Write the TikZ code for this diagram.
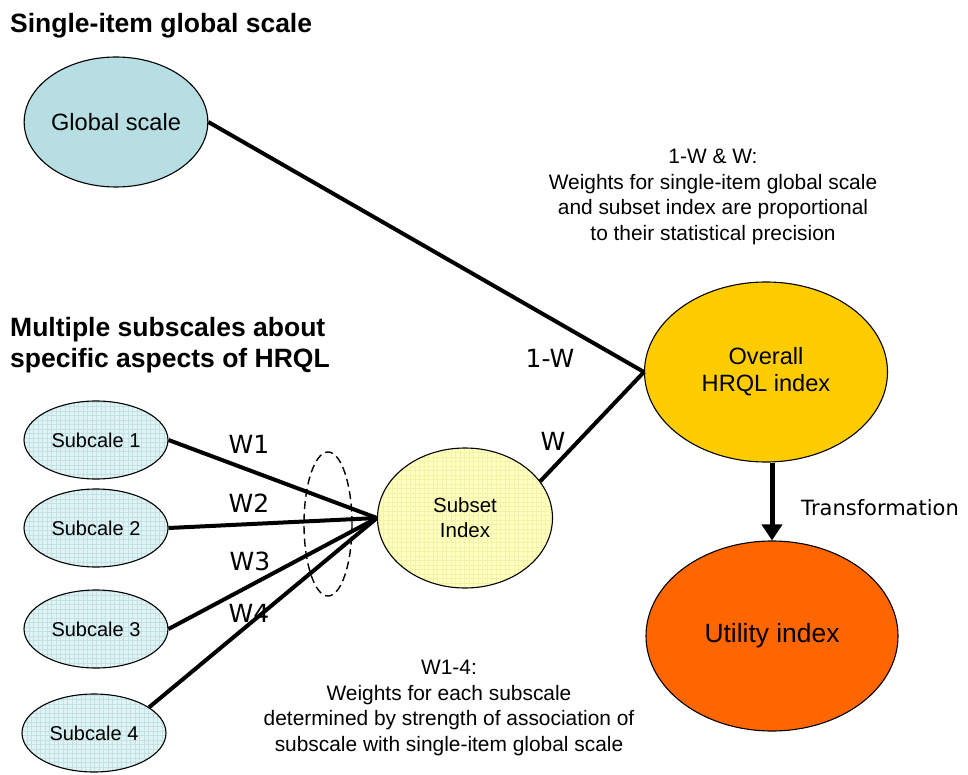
\documentclass[tikz,border=0pt]{standalone}
\usepackage{fontspec}
\setmainfont{Liberation Sans}
\newfontfamily\lblfont{DejaVu Sans}
\usetikzlibrary{shapes.geometric,arrows.meta}

\definecolor{globfill}{RGB}{183,223,227}
\definecolor{subfill}{RGB}{226,243,244}
\definecolor{subgrid}{RGB}{192,226,230}
\definecolor{setfill}{RGB}{255,255,194}
\definecolor{setgrid}{RGB}{243,243,165}
\definecolor{ovrfill}{RGB}{255,204,0}
\definecolor{utlfill}{RGB}{255,102,0}

\tikzset{
  oval/.style={ellipse, draw=black, line width=1.1pt, inner sep=0pt, align=center},
  gridded/.style={path picture={\draw[#1, line width=0.5pt, step=4.5pt]
      (path picture bounding box.south west) grid (path picture bounding box.north east);}},
  subscale/.style={oval, fill=subfill, gridded=subgrid, minimum width=144pt,
      minimum height=78pt, font=\fontsize{20}{24}\selectfont},
  link/.style={line width=4pt},
  heading/.style={anchor=base west, inner sep=0pt, align=left,
      font=\bfseries\fontsize{26.5}{31}\selectfont},
  note/.style={inner sep=0pt, align=center, font=\fontsize{20.9}{25.5}\selectfont},
  wlabel/.style={anchor=base, inner sep=0pt, font=\lblfont\fontsize{25}{30}\selectfont}
}

\begin{document}
\begin{tikzpicture}[x=1pt, y=-1pt]
\useasboundingbox (0,0) rectangle (968,775);

% headings
\node[heading] (h1) at (10,33) {Single-item global scale};
\node[heading, anchor=north west] (h2) at (10,317)
  {Multiple subscales about\\specific aspects of HRQL};

% main ovals
\node[oval, fill=globfill, minimum width=181pt, minimum height=130pt,
      font=\fontsize{23.6}{28}\selectfont] (glob) at (116,122) {Global scale};
\node[oval, fill=ovrfill, minimum width=243pt, minimum height=180pt,
      font=\fontsize{23.6}{27}\selectfont] (ovr) at (766,372) {Overall\\HRQL index};
\node[oval, fill=utlfill, minimum width=252pt, minimum height=190pt,
      font=\fontsize{26.4}{30}\selectfont] (utl) at (772,636) {Utility index};
\node[oval, fill=setfill, gridded=setgrid, minimum width=175pt, minimum height=140pt,
      font=\fontsize{20.5}{25}\selectfont] (sub) at (465,518) {Subset\\Index};

% subscales
\node[subscale] (s1) at (96,440) {Subcale 1};
\node[subscale] (s2) at (96,528) {Subcale 2};
\node[subscale] (s3) at (96,629) {Subcale 3};
\node[subscale] (s4) at (94,733) {Subcale 4};

% grouping of the subscale weights
\node[ellipse, draw=black, line width=1.4pt, dash pattern=on 8pt off 4.5pt,
      minimum width=48pt, minimum height=144pt, inner sep=0pt] (grp) at (328,524) {};

% connectors
\draw[link] (glob.east) -- (ovr.west);
\draw[link] (sub.26) -- (ovr.west);
\draw[link] (s1.east) -- (sub.west);
\draw[link] (s2.east) -- (sub.west);
\draw[link] (s3.east) -- (sub.west);
\draw[link] (s4.25) -- (sub.west);
\draw[line width=5pt, -{Triangle[width=20pt,length=16pt]}]
  (utl.north |- ovr.south) -- (utl.north);

% weight labels
\node[wlabel] (w1) at (249,453) {W1};
\node[wlabel] (w2) at (249,512) {W2};
\node[wlabel] (w3) at (250,570) {W3};
\node[wlabel] (w4) at (249,622) {W4};
\node[wlabel] (wg) at (550,367) {1-W};
\node[wlabel] (ws) at (553,450) {W};
\node[wlabel, font=\lblfont\fontsize{21}{25}\selectfont] (tr) at (880,515) {Transformation};

% explanatory notes
\node[note] (n1) at (713,197) {1-W \& W:\\Weights for single-item global scale\\and subset index are proportional\\to their statistical precision};
\node[note] (n2) at (449,708) {W1-4:\\Weights for each subscale\\determined by strength of association of\\subscale with single-item global scale};
\end{tikzpicture}
\end{document}
